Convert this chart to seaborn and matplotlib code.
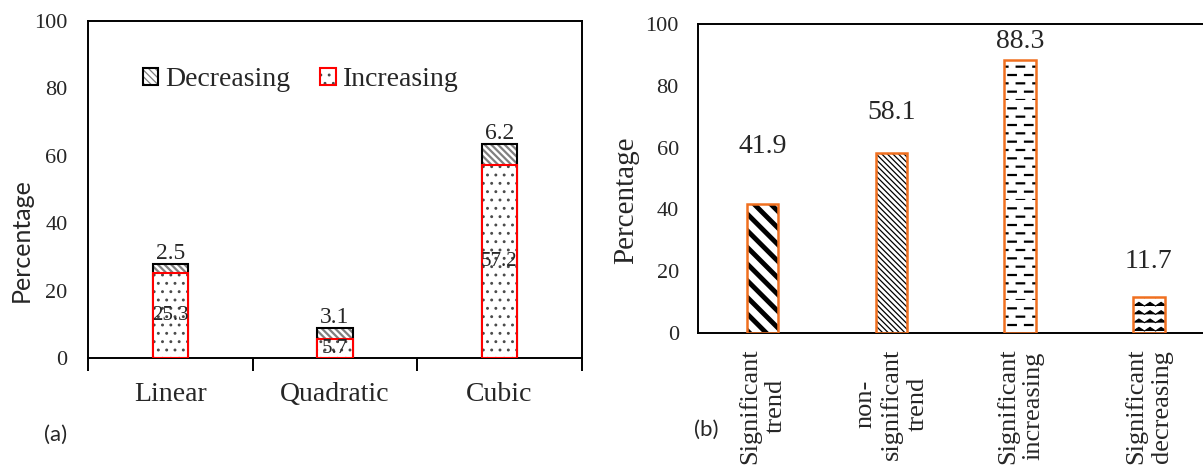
import warnings
import numpy as np
import pandas as pd
import matplotlib
matplotlib.use("Agg")
import matplotlib.pyplot as plt
import matplotlib.hatch as mhatch
from matplotlib.patches import Rectangle, Patch
from matplotlib.legend_handler import HandlerTuple
import seaborn as sns

warnings.filterwarnings("ignore")

# ---------------- data ----------------
models = ["Linear", "Quadratic", "Cubic"]
increasing = [25.3, 5.7, 57.2]
decreasing = [2.5, 3.1, 6.2]

trend_cats = ["Significant\ntrend", "non-\nsignificant\ntrend",
              "Significant\nincreasing", "Significant\ndecreasing"]
trend_vals = [41.9, 58.1, 88.3, 11.7]
trend_label_y = [60.2, 71.5, 94.3, 23.0]   # where the value labels sit

yticks = [0, 20, 40, 60, 80, 100]


# ---------------- custom hatches (dashed rows, waves) ----------------
class DashedRows(mhatch.HatchPatternBase):
    def __init__(self, hatch, density):
        self.num_rows = hatch.count("_") * density
        self.per = 6
        self.num_vertices = self.num_rows * self.per * 2 if self.num_rows else 0

    def set_vertices_and_codes(self, vertices, codes):
        k = 0
        for i in range(self.num_rows):
            y = i / self.num_rows
            off = 0.0 if i % 2 == 0 else 0.5 / self.per
            for j in range(self.per):
                x0 = j / self.per + off
                vertices[k] = (x0, y)
                vertices[k + 1] = (x0 + 0.45 / self.per, y)
                codes[k] = 1
                codes[k + 1] = 2
                k += 2


class WaveRows(mhatch.HatchPatternBase):
    def __init__(self, hatch, density):
        self.num_rows = hatch.count("~") * density
        self.per = 9
        self.num_vertices = self.num_rows * (self.per * 2 + 1) if self.num_rows else 0

    def set_vertices_and_codes(self, vertices, codes):
        k = 0
        amp = 0.22 / max(self.num_rows, 1)
        for i in range(self.num_rows):
            y = (i + 0.5) / self.num_rows
            for j in range(self.per * 2 + 1):
                x = j / (self.per * 2)
                vertices[k] = (x, y + (amp if j % 2 else -amp))
                codes[k] = 1 if j == 0 else 2
                k += 1


mhatch._hatch_types.extend([DashedRows, WaveRows])


def set_hlw(p, lw):
    if hasattr(p, "set_hatch_linewidth"):
        p.set_hatch_linewidth(lw)


# ---------------- figure ----------------
sns.set_theme(style="white")
plt.rcParams["font.family"] = ["Liberation Serif", "DejaVu Serif"]
plt.rcParams["axes.linewidth"] = 1.4

W, H = 1203, 466
fig = plt.figure(figsize=(W / 100, H / 100), dpi=100)

ax1 = fig.add_axes([88.3 / W, 1 - 358 / H, 493.4 / W, 337 / H])
ax2 = fig.add_axes([698.3 / W, 1 - 333 / H, 514.8 / W, 309 / H])

DEC_HATCH = "\\" * 5
INC_HATCH = ".."

# ---------------- panel (a) ----------------
df_a = pd.DataFrame({"model": models, "inc": increasing, "dec": decreasing})
df_a["total"] = df_a["inc"] + df_a["dec"]

# total bar (decreasing on top), gray stripe hatch
plt.rcParams["hatch.linewidth"] = 1.6
sns.barplot(data=df_a, x="model", y="total", ax=ax1, color="white",
            width=0.216, saturation=1, order=models)
tot_patches = list(ax1.patches)
for p in tot_patches:
    p.set_facecolor("white")
    p.set_edgecolor("#7f7f7f")
    p.set_linewidth(0)
    p.set_hatch(DEC_HATCH)
    set_hlw(p, 1.6)
    ax1.add_patch(Rectangle(p.get_xy(), p.get_width(), p.get_height(),
                            fill=False, edgecolor="black", linewidth=1.5, zorder=3))

# increasing bar with dots
plt.rcParams["hatch.linewidth"] = 0.9
n_before = len(ax1.patches)
sns.barplot(data=df_a, x="model", y="inc", ax=ax1, color="white",
            width=0.216, saturation=1, order=models)
inc_patches = list(ax1.patches)[n_before:]
for p in inc_patches:
    p.set_facecolor("white")
    p.set_edgecolor("#4a4a4a")
    p.set_linewidth(0)
    p.set_hatch(INC_HATCH)
    p.set_zorder(3.5)
    set_hlw(p, 0.9)
    ax1.add_patch(Rectangle(p.get_xy(), p.get_width(), p.get_height(),
                            fill=False, edgecolor="#ff0000", linewidth=1.5, zorder=4))

# labels
for p, d, t in zip(tot_patches, decreasing, df_a["total"]):
    ax1.annotate(f"{d:.1f}", xy=(p.get_x() + p.get_width() / 2, t),
                 xytext=(0, 0.5), textcoords="offset points",
                 ha="center", va="bottom", fontsize=17, zorder=6)
for p, v in zip(inc_patches, increasing):
    ax1.text(p.get_x() + p.get_width() / 2, v / 2, f"{v:.1f}",
             ha="center", va="center", fontsize=15, zorder=6)

ax1.set_ylim(0, 100)
ax1.set_xlim(-0.5, len(models) - 0.5)
ax1.set_yticks(yticks)
ax1.tick_params(axis="y", labelsize=16, length=0, pad=15)
ax1.tick_params(axis="x", which="major", labelsize=20, length=0, pad=17)
ax1.set_xticks(np.arange(len(models) + 1) - 0.5, minor=True)
ax1.tick_params(axis="x", which="minor", length=9, width=1.4, direction="out",
                bottom=True, color="black")
ax1.set_xlabel("")
ax1.set_ylabel("Percentage", fontsize=18, family=["Lato", "DejaVu Sans"])
ax1.yaxis.set_label_coords(-0.136, 0.35)
ax1.yaxis.label.set(va="center", ha="center")
for s in ax1.spines.values():
    s.set_color("black")
    s.set_linewidth(1.4)

# legend
h_dec = (Patch(facecolor="white", edgecolor="#7f7f7f", hatch=DEC_HATCH, linewidth=0),
         Patch(facecolor="none", edgecolor="black", linewidth=1.5))
h_inc = (Patch(facecolor="white", edgecolor="#4a4a4a", hatch=INC_HATCH, linewidth=0),
         Patch(facecolor="none", edgecolor="#ff0000", linewidth=1.5))
ax1.legend([h_dec, h_inc], ["Decreasing", "Increasing"],
           handler_map={tuple: HandlerTuple(ndivide=1, pad=0)},
           ncol=2, frameon=False, fontsize=20, loc="center",
           bbox_to_anchor=(0.43, 0.825), handlelength=0.55, handleheight=0.55,
           handletextpad=0.25, columnspacing=1.1, borderpad=0)

fig.text(56 / W, 1 - 435 / H, "(a)", fontsize=16, ha="center", va="center",
         family=["Lato", "DejaVu Sans"])

# ---------------- panel (b) ----------------
df_b = pd.DataFrame({"cat": trend_cats, "val": trend_vals})
sns.barplot(data=df_b, x="cat", y="val", ax=ax2, color="white",
            width=0.245, saturation=1, order=trend_cats)
hatches_b = ["\\" * 2, "\\" * 6, "__", "~~"]
hatch_lw_b = [3.5, 0.9, 1.6, 0.8]
for p, h, lw in zip(ax2.patches, hatches_b, hatch_lw_b):
    p.set_facecolor("white")
    p.set_edgecolor("black")
    p.set_linewidth(0)
    p.set_hatch(h)
    set_hlw(p, lw)
for p in list(ax2.patches):
    ax2.add_patch(Rectangle(p.get_xy(), p.get_width(), p.get_height(),
                            fill=False, edgecolor="#f07020", linewidth=1.8, zorder=4))
for p, v, ly in zip(ax2.patches, trend_vals, trend_label_y):
    ax2.text(p.get_x() + p.get_width() / 2, ly, f"{v:.1f}",
             ha="center", va="center", fontsize=20)

ax2.set_ylim(0, 100)
ax2.set_xlim(-0.5, len(trend_cats) - 0.5)
ax2.set_yticks(yticks)
ax2.tick_params(axis="y", labelsize=16, length=0, pad=14)
ax2.tick_params(axis="x", labelsize=19, length=0, pad=11)
for lab in ax2.get_xticklabels():
    lab.set_rotation(90)
    lab.set_multialignment("center")
    lab.set_ha("center")
    lab.set_va("top")
    lab.set_linespacing(1.2)
ax2.set_xlabel("")
ax2.set_ylabel("Percentage", fontsize=21)
ax2.yaxis.set_label_coords(-0.140, 0.43)
ax2.yaxis.label.set(va="center", ha="center")
for s in ax2.spines.values():
    s.set_color("black")
    s.set_linewidth(1.4)

fig.text(706 / W, 1 - 430 / H, "(b)", fontsize=16, ha="center", va="center",
         family=["Lato", "DejaVu Sans"])

fig.savefig("out.png", dpi=100, facecolor="white")
